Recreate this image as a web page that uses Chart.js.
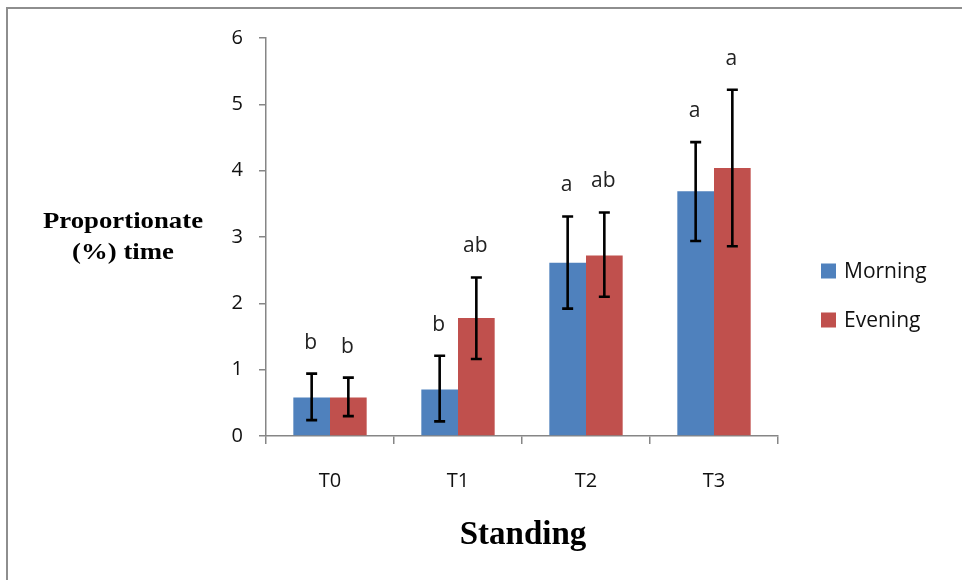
<!DOCTYPE html>
<html>
<head>
<meta charset="utf-8">
<script src="https://cdn.jsdelivr.net/npm/chart.js@4"></script>
<style>
  html, body { margin: 0; padding: 0; background: #fff; }
  #wrap { width: 962px; height: 580px; position: relative; }
</style>
</head>
<body>
<div id="wrap"><canvas id="standingChart" width="962" height="580"></canvas></div>
<script>
// data
const categories = ['T0', 'T1', 'T2', 'T3'];
const morning = [0.58, 0.70, 2.61, 3.69];
const evening = [0.58, 1.78, 2.72, 4.04];
const morningLow = [0.24, 0.22, 1.92, 2.94];
const morningHigh = [0.94, 1.21, 3.31, 4.43];
const eveningLow = [0.30, 1.16, 2.10, 2.86];
const eveningHigh = [0.88, 2.39, 3.37, 5.22];
const morningLetters = ['b', 'b', 'a', 'a'];
const eveningLetters = ['b', 'ab', 'ab', 'a'];
const yMin = 0, yMax = 6, yStep = 1;

const sansFont = '"Open Sans", "Liberation Sans", sans-serif';
const serifFont = '"Liberation Serif", "DejaVu Serif", serif';
const axisGrey = '#868686';

const errLow = [morningLow, eveningLow];
const errHigh = [morningHigh, eveningHigh];
const letters = [morningLetters, eveningLetters];

// frame, error bars, letters, axis titles and legend
const extras = {
    id: 'extras',
    beforeDraw(chart) {
        const ctx = chart.ctx;
        ctx.save();
        ctx.strokeStyle = '#8e8e8e';
        ctx.lineWidth = 2;
        ctx.beginPath();
        ctx.moveTo(7, 580);
        ctx.lineTo(7, 8);
        ctx.lineTo(962, 8);
        ctx.stroke();
        ctx.restore();
    },
    afterDatasetsDraw(chart) {
        const ctx = chart.ctx;
        const y = chart.scales.y;
        ctx.save();
        chart.data.datasets.forEach(function(ds, d) {
            const meta = chart.getDatasetMeta(d);
            meta.data.forEach(function(bar, i) {
                const top = y.getPixelForValue(errHigh[d][i]);
                const bot = y.getPixelForValue(errLow[d][i]);
                ctx.strokeStyle = '#000';
                ctx.lineWidth = 2.6;
                ctx.beginPath();
                ctx.moveTo(bar.x, top);
                ctx.lineTo(bar.x, bot);
                ctx.moveTo(bar.x - 5.5, top);
                ctx.lineTo(bar.x + 5.5, top);
                ctx.moveTo(bar.x - 5.5, bot);
                ctx.lineTo(bar.x + 5.5, bot);
                ctx.stroke();

                ctx.fillStyle = '#222';
                ctx.font = '21px ' + sansFont;
                ctx.textAlign = 'center';
                ctx.textBaseline = 'middle';
                ctx.fillText(letters[d][i], bar.x - 1, top - 31);
            });
        });
        ctx.restore();
    },
    afterDraw(chart) {
        const ctx = chart.ctx;
        ctx.save();
        ctx.fillStyle = '#000';
        ctx.textAlign = 'center';
        ctx.textBaseline = 'alphabetic';

        // y title, two lines, a little wider than the font
        ctx.font = 'bold 23px ' + serifFont;
        const line1 = 'Proportionate';
        const line2 = '(%) time';
        const sx = 160 / ctx.measureText(line1).width;
        ctx.translate(123, 0);
        ctx.scale(sx, 1);
        ctx.fillText(line1, 0, 228);
        ctx.fillText(line2, 0, 259);
        ctx.setTransform(1, 0, 0, 1, 0, 0);

        // x title
        ctx.font = 'bold 33px ' + serifFont;
        ctx.fillText('Standing', 523, 544);

        // legend
        ctx.textAlign = 'left';
        ctx.textBaseline = 'middle';
        ctx.font = '21px ' + sansFont;
        chart.data.datasets.forEach(function(ds, d) {
            const cy = 271 + d * 49;
            ctx.fillStyle = ds.backgroundColor;
            ctx.fillRect(821, cy - 7.5, 15, 15);
            ctx.fillStyle = '#111';
            ctx.fillText(ds.label, 844, cy + 1);
        });
        ctx.restore();
    }
};

new Chart(document.getElementById('standingChart'), {
    type: 'bar',
    data: {
        labels: categories,
        datasets: [
            { label: 'Morning', data: morning, backgroundColor: '#4F81BD' },
            { label: 'Evening', data: evening, backgroundColor: '#C0504D' }
        ]
    },
    options: {
        responsive: false,
        animation: false,
        layout: { padding: { left: 0, right: 184, top: 38, bottom: 0 } },
        datasets: {
            bar: { categoryPercentage: 0.573, barPercentage: 1.0 }
        },
        scales: {
            x: {
                grid: {
                    display: true,
                    drawOnChartArea: false,
                    drawTicks: true,
                    tickLength: 8,
                    color: axisGrey,
                    lineWidth: 1.5
                },
                border: { display: true, color: axisGrey, width: 1.5 },
                ticks: {
                    color: '#111',
                    font: { family: sansFont, size: 20 },
                    padding: 25
                },
                afterFit(scale) { scale.height = 144; }
            },
            y: {
                min: yMin,
                max: yMax,
                grid: {
                    display: true,
                    drawOnChartArea: false,
                    drawTicks: true,
                    tickLength: 7,
                    color: axisGrey,
                    lineWidth: 1.5
                },
                border: { display: true, color: axisGrey, width: 1.5 },
                ticks: {
                    stepSize: yStep,
                    color: '#111',
                    font: { family: sansFont, size: 20 },
                    padding: 16
                },
                afterFit(scale) { scale.width = 266; }
            }
        },
        plugins: {
            legend: { display: false },
            tooltip: { enabled: false }
        }
    },
    plugins: [extras]
});
</script>
</body>
</html>
